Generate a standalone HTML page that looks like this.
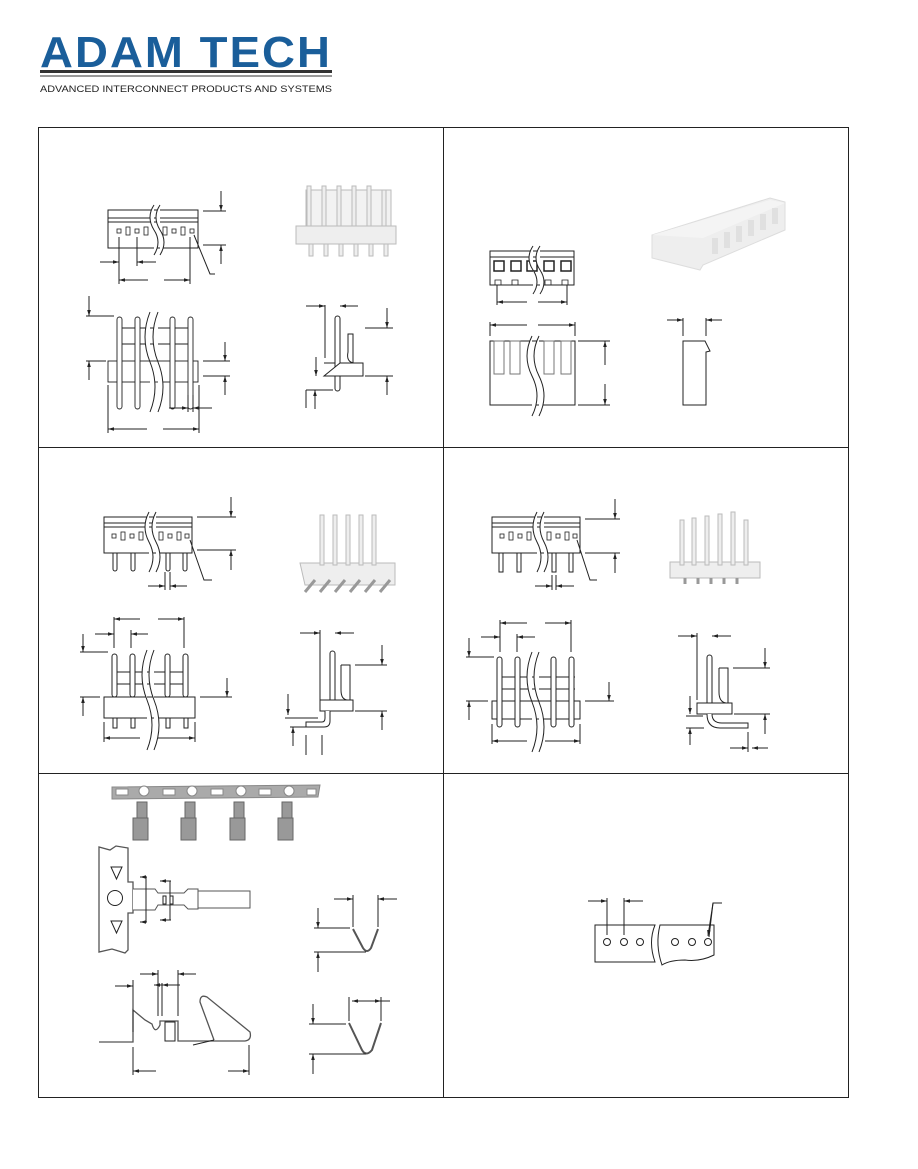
<!DOCTYPE html>
<html><head><meta charset="utf-8">
<style>
html,body{margin:0;padding:0;background:#fff;}
svg{display:block;}
text{font-family:"Liberation Sans",sans-serif;}
</style></head>
<body>
<svg width="918" height="1169" viewBox="0 0 918 1169" xmlns="http://www.w3.org/2000/svg" fill="none" stroke="#222" stroke-width="1">
<!-- Logo -->
<text x="40" y="67" font-size="44" font-weight="bold" fill="#1a5e9a" stroke="none" letter-spacing="2" textLength="292" lengthAdjust="spacingAndGlyphs">ADAM TECH</text>
<rect x="40" y="70" width="292" height="3" fill="#333" stroke="none"/>
<rect x="40" y="75" width="292" height="2" fill="#999" stroke="none"/>
<text x="40" y="92" font-size="9.5" fill="#222" stroke="none" textLength="292" lengthAdjust="spacingAndGlyphs">ADVANCED INTERCONNECT PRODUCTS AND SYSTEMS</text>

<!-- Grid -->
<rect x="38.5" y="127.5" width="810" height="970" stroke="#222"/>
<line x1="443.5" y1="127" x2="443.5" y2="1097"/>
<line x1="38" y1="447.5" x2="848" y2="447.5"/>
<line x1="38" y1="773.5" x2="848" y2="773.5"/>

<defs>
<marker id="a" viewBox="0 0 10 10" refX="10" refY="5" markerWidth="6" markerHeight="6" orient="auto-start-reverse"><path d="M0,2 L10,5 L0,8z" fill="#222" stroke="none"/></marker>
</defs>

<!-- PANEL 1 -->
<g>
<rect x="108" y="210" width="90" height="38" fill="#fff"/>
<line x1="108" y1="218" x2="198" y2="218"/>
<line x1="108" y1="222" x2="198" y2="222"/>
<g stroke-width="0.8"><rect x="117" y="229" width="4" height="4"/><rect x="126" y="227" width="4" height="8"/><rect x="135" y="229" width="4" height="4"/><rect x="144" y="227" width="4" height="8"/><rect x="163" y="227" width="4" height="8"/><rect x="172" y="229" width="4" height="4"/><rect x="181" y="227" width="4" height="8"/><rect x="190" y="229" width="4" height="4"/></g>
<path d="M154,205 q-8,12 0,25 q8,12 0,25 M160,205 q-8,12 0,25 q8,12 0,25" fill="#fff" stroke="#222"/>
<line x1="203" y1="211" x2="226" y2="211"/><line x1="221" y1="191" x2="221" y2="211" marker-end="url(#a)"/>
<line x1="203" y1="245" x2="226" y2="245"/><line x1="221" y1="264" x2="221" y2="245" marker-end="url(#a)"/>
<line x1="119" y1="237" x2="119" y2="284"/><line x1="137" y1="237" x2="137" y2="266"/><line x1="190" y1="237" x2="190" y2="284"/>
<line x1="100" y1="262" x2="119" y2="262" marker-end="url(#a)"/><line x1="156" y1="262" x2="137" y2="262" marker-end="url(#a)"/>
<line x1="148" y1="280" x2="119" y2="280" marker-end="url(#a)"/><line x1="164" y1="280" x2="190" y2="280" marker-end="url(#a)"/>
<path d="M194,235 L210,274 L215,274"/>
<!-- photo -->
<g fill="#eee" stroke="#bbb"><rect x="296" y="226" width="100" height="18"/>
<rect x="306" y="190" width="85" height="36" fill="#f2f2f2"/>
<rect x="307" y="186" width="4" height="40"/><rect x="322" y="186" width="4" height="40"/><rect x="337" y="186" width="4" height="40"/><rect x="352" y="186" width="4" height="40"/><rect x="367" y="186" width="4" height="40"/><rect x="382" y="190" width="4" height="36"/>
<rect x="309" y="244" width="4" height="12"/><rect x="324" y="244" width="4" height="12"/><rect x="339" y="244" width="4" height="12"/><rect x="354" y="244" width="4" height="12"/><rect x="369" y="244" width="4" height="12"/><rect x="384" y="244" width="4" height="12"/></g>
<!-- pin front -->
<g stroke-width="0.9">
<rect x="108" y="361" width="90" height="21" fill="#fff"/>
<line x1="118" y1="328" x2="188" y2="328"/><line x1="118" y1="344" x2="188" y2="344"/>
<rect x="117" y="317" width="5" height="92" rx="2.5" fill="#fff"/><rect x="135" y="317" width="5" height="92" rx="2.5" fill="#fff"/><rect x="170" y="317" width="5" height="92" rx="2.5" fill="#fff"/><rect x="188" y="317" width="5" height="92" rx="2.5" fill="#fff"/>
</g>
<path d="M150,312 q-10,25 0,50 q10,25 0,50 M158,312 q-10,25 0,50 q10,25 0,50" fill="#fff"/>
<line x1="86" y1="316" x2="114" y2="316"/><line x1="89" y1="296" x2="89" y2="316" marker-end="url(#a)"/>
<line x1="86" y1="361" x2="106" y2="361"/><line x1="89" y1="380" x2="89" y2="361" marker-end="url(#a)"/>
<line x1="203" y1="361" x2="230" y2="361"/><line x1="225" y1="342" x2="225" y2="361" marker-end="url(#a)"/>
<line x1="203" y1="376" x2="230" y2="376"/><line x1="225" y1="395" x2="225" y2="376" marker-end="url(#a)"/>
<line x1="108" y1="385" x2="108" y2="433"/><line x1="199" y1="385" x2="199" y2="433"/>
<line x1="147" y1="429" x2="108" y2="429" marker-end="url(#a)"/><line x1="163" y1="429" x2="199" y2="429" marker-end="url(#a)"/>
<line x1="188" y1="395" x2="188" y2="412"/><line x1="193" y1="395" x2="193" y2="412"/>
<line x1="169" y1="408" x2="188" y2="408" marker-end="url(#a)"/><line x1="212" y1="408" x2="193" y2="408" marker-end="url(#a)"/>
<!-- side -->
<rect x="335" y="316" width="5" height="75" rx="2.5" fill="#fff"/>
<path d="M324,363 L335,363 M340,363 L353,363 L353,334 L348,334 L348,352 Q346,362 354,363 L363,363 L363,376 L324,376 Z" fill="#fff"/>
<line x1="325" y1="305" x2="325" y2="358"/><line x1="306" y1="306" x2="325" y2="306" marker-end="url(#a)"/><line x1="358" y1="306" x2="340" y2="306" marker-end="url(#a)"/>
<line x1="365" y1="328" x2="393" y2="328"/><line x1="387" y1="308" x2="387" y2="328" marker-end="url(#a)"/>
<line x1="365" y1="376" x2="393" y2="376"/><line x1="387" y1="395" x2="387" y2="376" marker-end="url(#a)"/>
<line x1="316" y1="376" x2="316" y2="357" marker-start="url(#a)"/>
<line x1="306" y1="390" x2="333" y2="390"/><line x1="315" y1="409" x2="315" y2="390" marker-end="url(#a)"/><line x1="306" y1="408" x2="306" y2="390"/>
</g>

<!-- PANEL 2 -->
<g>
<rect x="490" y="251" width="84" height="34" fill="#fff"/>
<line x1="490" y1="257" x2="574" y2="257"/>
<rect x="494" y="261" width="10" height="10" stroke-width="1.5"/><rect x="511" y="261" width="10" height="10" stroke-width="1.5"/><rect x="527" y="261" width="10" height="10" stroke-width="1.5"/><rect x="544" y="261" width="10" height="10" stroke-width="1.5"/><rect x="561" y="261" width="10" height="10" stroke-width="1.5"/>
<path d="M495,285 v-5 h6 v5 M512,285 v-5 h6 v5 M545,285 v-5 h6 v5 M562,285 v-5 h6 v5" stroke-width="0.8"/>
<path d="M533,246 q-8,12 0,24 q8,12 0,24 M540,246 q-8,12 0,24 q8,12 0,24" fill="#fff"/>
<line x1="497" y1="285" x2="497" y2="305"/><line x1="567" y1="285" x2="567" y2="305"/>
<line x1="527" y1="302" x2="497" y2="302" marker-end="url(#a)"/><line x1="538" y1="302" x2="567" y2="302" marker-end="url(#a)"/>
<!-- photo -->
<path d="M652,235 L770,198 L785,202 L785,230 L703,265 L700,270 L652,258 Z" fill="#eeeeee" stroke="#ddd"/>
<path d="M652,235 L770,200 L785,203 L703,238 Z" fill="#f4f4f4" stroke="none"/>
<g fill="#e0e0e0" stroke="none"><rect x="712" y="238" width="6" height="16"/><rect x="724" y="232" width="6" height="16"/><rect x="736" y="226" width="6" height="16"/><rect x="748" y="220" width="6" height="16"/><rect x="760" y="214" width="6" height="16"/><rect x="772" y="208" width="6" height="16"/></g>
<!-- front -->
<rect x="490" y="341" width="85" height="64" fill="#fff"/>
<g stroke-width="1" stroke="#777"><rect x="494" y="341" width="10" height="33"/><rect x="510" y="341" width="10" height="33"/><rect x="544" y="341" width="10" height="33"/><rect x="561" y="341" width="10" height="33"/></g>
<path d="M532,336 q-10,20 0,40 q10,20 0,40 M539,336 q-10,20 0,40 q10,20 0,40" fill="#fff"/>
<line x1="490" y1="322" x2="490" y2="336"/><line x1="575" y1="322" x2="575" y2="336"/>
<line x1="527" y1="325" x2="490" y2="325" marker-end="url(#a)"/><line x1="538" y1="325" x2="575" y2="325" marker-end="url(#a)"/>
<line x1="578" y1="341" x2="610" y2="341"/><line x1="578" y1="405" x2="610" y2="405"/>
<line x1="605" y1="365" x2="605" y2="341" marker-end="url(#a)"/><line x1="605" y1="384" x2="605" y2="405" marker-end="url(#a)"/>
<path d="M683,341 L705,341 L710,351 L706,352 L706,405 L683,405 Z" fill="#fff"/>
<line x1="683" y1="318" x2="683" y2="336"/><line x1="706" y1="318" x2="706" y2="336"/>
<line x1="667" y1="320" x2="683" y2="320" marker-end="url(#a)"/><line x1="722" y1="320" x2="706" y2="320" marker-end="url(#a)"/>
</g>

<!-- PANEL 3 -->
<g>
<rect x="104" y="517" width="88" height="36" fill="#fff"/>
<line x1="104" y1="523" x2="192" y2="523"/><line x1="104" y1="527" x2="192" y2="527"/>
<g stroke-width="0.8"><rect x="112" y="534" width="4" height="4"/><rect x="121" y="532" width="4" height="8"/><rect x="130" y="534" width="4" height="4"/><rect x="139" y="532" width="4" height="8"/><rect x="159" y="532" width="4" height="8"/><rect x="168" y="534" width="4" height="4"/><rect x="177" y="532" width="4" height="8"/><rect x="185" y="534" width="4" height="4"/></g>
<path d="M113,553 v16 a2,2 0 0 0 4,0 v-16 M131,553 v16 a2,2 0 0 0 4,0 v-16 M166,553 v16 a2,2 0 0 0 4,0 v-16 M183,553 v16 a2,2 0 0 0 4,0 v-16"/>
<path d="M149,512 q-8,15 0,30 q8,15 0,30 M156,512 q-8,15 0,30 q8,15 0,30" fill="#fff"/>
<line x1="197" y1="517" x2="236" y2="517"/><line x1="231" y1="497" x2="231" y2="517" marker-end="url(#a)"/>
<line x1="197" y1="550" x2="236" y2="550"/><line x1="231" y1="570" x2="231" y2="550" marker-end="url(#a)"/>
<line x1="165" y1="572" x2="165" y2="590"/><line x1="170" y1="572" x2="170" y2="590"/>
<line x1="148" y1="586" x2="165" y2="586" marker-end="url(#a)"/><line x1="187" y1="586" x2="170" y2="586" marker-end="url(#a)"/>
<path d="M190,540 L204,580 L212,580"/>
<!-- photo -->
<g fill="#eee" stroke="#bbb"><path d="M300,563 L395,563 L395,585 L305,585 Z"/>
<rect x="320" y="515" width="4" height="50"/><rect x="333" y="515" width="4" height="50"/><rect x="346" y="515" width="4" height="50"/><rect x="359" y="515" width="4" height="50"/><rect x="372" y="515" width="4" height="50"/>
<path d="M315,580 l-10,12 M330,580 l-10,12 M345,580 l-10,12 M360,580 l-10,12 M375,580 l-10,12 M390,580 l-10,12" stroke="#999" stroke-width="3"/></g>
<!-- pin front -->
<rect x="104" y="697" width="91" height="21" fill="#fff"/>
<line x1="112" y1="672" x2="188" y2="672"/><line x1="112" y1="684" x2="188" y2="684"/>
<rect x="112" y="654" width="5" height="43" rx="2.5" fill="#fff"/><rect x="130" y="654" width="5" height="43" rx="2.5" fill="#fff"/><rect x="165" y="654" width="5" height="43" rx="2.5" fill="#fff"/><rect x="183" y="654" width="5" height="43" rx="2.5" fill="#fff"/>
<path d="M113,718 v10 h4 v-10 M131,718 v10 h4 v-10 M166,718 v10 h4 v-10 M184,718 v10 h4 v-10"/>
<path d="M147,650 q-10,25 0,50 q10,25 0,50 M154,650 q-10,25 0,50 q10,25 0,50" fill="#fff"/>
<line x1="114" y1="617" x2="114" y2="648"/><line x1="184" y1="617" x2="184" y2="648"/>
<line x1="140" y1="619" x2="114" y2="619" marker-end="url(#a)"/><line x1="158" y1="619" x2="184" y2="619" marker-end="url(#a)"/>
<line x1="131" y1="630" x2="131" y2="648"/><line x1="95" y1="634" x2="114" y2="634" marker-end="url(#a)"/><line x1="148" y1="634" x2="131" y2="634" marker-end="url(#a)"/>
<line x1="80" y1="652" x2="108" y2="652"/><line x1="83" y1="634" x2="83" y2="652" marker-end="url(#a)"/>
<line x1="80" y1="697" x2="100" y2="697"/><line x1="83" y1="716" x2="83" y2="697" marker-end="url(#a)"/>
<line x1="200" y1="697" x2="232" y2="697"/><line x1="227" y1="678" x2="227" y2="697" marker-end="url(#a)"/>
<line x1="104" y1="722" x2="104" y2="742"/><line x1="195" y1="722" x2="195" y2="742"/>
<line x1="140" y1="738" x2="104" y2="738" marker-end="url(#a)"/><line x1="158" y1="738" x2="195" y2="738" marker-end="url(#a)"/>
<!-- side -->
<rect x="330" y="651" width="5" height="57" rx="2.5" fill="#fff"/>
<path d="M320,700 L353,700 L353,711 L320,711 Z M341,665 L350,665 L350,700 M341,665 L341,690 Q341,700 348,700" fill="#fff"/>
<path d="M330,711 L330,721 Q330,727 324,727 L306,727 L306,722 L322,722 Q325,722 325,718 L325,711" fill="#fff"/>
<line x1="320" y1="630" x2="320" y2="700"/><line x1="300" y1="633" x2="320" y2="633" marker-end="url(#a)"/><line x1="354" y1="633" x2="335" y2="633" marker-end="url(#a)"/>
<line x1="355" y1="665" x2="387" y2="665"/><line x1="382" y1="645" x2="382" y2="665" marker-end="url(#a)"/>
<line x1="355" y1="711" x2="387" y2="711"/><line x1="382" y1="730" x2="382" y2="711" marker-end="url(#a)"/>
<line x1="288" y1="694" x2="288" y2="715" marker-end="url(#a)"/><line x1="285" y1="718" x2="318" y2="718"/>
<line x1="293" y1="746" x2="293" y2="727" marker-end="url(#a)"/><line x1="290" y1="727" x2="306" y2="727"/>
<line x1="306" y1="735" x2="306" y2="755"/><line x1="322" y1="735" x2="322" y2="755"/>
</g>

<!-- PANEL 4 -->
<g>
<rect x="492" y="517" width="88" height="36" fill="#fff"/>
<line x1="492" y1="523" x2="580" y2="523"/><line x1="492" y1="527" x2="580" y2="527"/>
<g stroke-width="0.8"><rect x="500" y="534" width="4" height="4"/><rect x="509" y="532" width="4" height="8"/><rect x="518" y="534" width="4" height="4"/><rect x="527" y="532" width="4" height="8"/><rect x="547" y="532" width="4" height="8"/><rect x="556" y="534" width="4" height="4"/><rect x="565" y="532" width="4" height="8"/><rect x="573" y="534" width="4" height="4"/></g>
<path d="M499,553 v19 h4 v-19 M517,553 v19 h4 v-19 M552,553 v19 h4 v-19 M569,553 v19 h4 v-19"/>
<path d="M537,512 q-8,15 0,30 q8,15 0,30 M544,512 q-8,15 0,30 q8,15 0,30" fill="#fff"/>
<line x1="585" y1="519" x2="620" y2="519"/><line x1="615" y1="499" x2="615" y2="519" marker-end="url(#a)"/>
<line x1="585" y1="553" x2="620" y2="553"/><line x1="615" y1="573" x2="615" y2="553" marker-end="url(#a)"/>
<line x1="552" y1="575" x2="552" y2="590"/><line x1="556" y1="575" x2="556" y2="590"/>
<line x1="535" y1="586" x2="552" y2="586" marker-end="url(#a)"/><line x1="574" y1="586" x2="556" y2="586" marker-end="url(#a)"/>
<path d="M577,540 L590,580 L597,580"/>
<!-- photo -->
<g fill="#eee" stroke="#bbb"><rect x="670" y="562" width="90" height="16"/>
<rect x="680" y="520" width="4" height="45"/><rect x="692" y="518" width="4" height="47"/><rect x="705" y="516" width="4" height="49"/><rect x="718" y="514" width="4" height="51"/><rect x="731" y="512" width="4" height="53"/><rect x="744" y="520" width="4" height="45"/>
<path d="M685,578 v6 M698,578 v6 M711,578 v6 M724,578 v6 M737,578 v6" stroke="#999" stroke-width="3"/></g>
<!-- pin front -->
<rect x="492" y="701" width="88" height="18" fill="#fff"/>
<line x1="497" y1="677" x2="575" y2="677"/><line x1="497" y1="689" x2="575" y2="689"/>
<rect x="497" y="657" width="5" height="70" rx="2.5" fill="#fff"/><rect x="515" y="657" width="5" height="70" rx="2.5" fill="#fff"/><rect x="551" y="657" width="5" height="70" rx="2.5" fill="#fff"/><rect x="569" y="657" width="5" height="70" rx="2.5" fill="#fff"/>
<path d="M532,652 q-10,25 0,50 q10,25 0,50 M539,652 q-10,25 0,50 q10,25 0,50" fill="#fff"/>
<line x1="500" y1="620" x2="500" y2="652"/><line x1="571" y1="620" x2="571" y2="652"/>
<line x1="527" y1="623" x2="500" y2="623" marker-end="url(#a)"/><line x1="545" y1="623" x2="571" y2="623" marker-end="url(#a)"/>
<line x1="517" y1="634" x2="517" y2="652"/><line x1="481" y1="637" x2="500" y2="637" marker-end="url(#a)"/><line x1="535" y1="637" x2="517" y2="637" marker-end="url(#a)"/>
<line x1="466" y1="657" x2="494" y2="657"/><line x1="469" y1="638" x2="469" y2="657" marker-end="url(#a)"/>
<line x1="466" y1="701" x2="488" y2="701"/><line x1="469" y1="720" x2="469" y2="701" marker-end="url(#a)"/>
<line x1="585" y1="701" x2="614" y2="701"/><line x1="609" y1="682" x2="609" y2="701" marker-end="url(#a)"/>
<line x1="492" y1="724" x2="492" y2="744"/><line x1="580" y1="724" x2="580" y2="744"/>
<line x1="527" y1="741" x2="492" y2="741" marker-end="url(#a)"/><line x1="545" y1="741" x2="580" y2="741" marker-end="url(#a)"/>
<!-- side -->
<rect x="707" y="655" width="5" height="55" rx="2.5" fill="#fff"/>
<path d="M697,703 L732,703 L732,714 L697,714 Z M719,668 L728,668 L728,703 M719,668 L719,692 Q719,702 726,703" fill="#fff"/>
<path d="M707,714 Q707,728 720,728 L748,728 L748,723 L722,723 Q712,723 712,714" fill="#fff"/>
<line x1="697" y1="633" x2="697" y2="700"/><line x1="678" y1="636" x2="697" y2="636" marker-end="url(#a)"/><line x1="731" y1="636" x2="712" y2="636" marker-end="url(#a)"/>
<line x1="733" y1="668" x2="770" y2="668"/><line x1="765" y1="648" x2="765" y2="668" marker-end="url(#a)"/>
<line x1="734" y1="714" x2="770" y2="714"/><line x1="765" y1="734" x2="765" y2="714" marker-end="url(#a)"/>
<line x1="690" y1="696" x2="690" y2="714" marker-end="url(#a)"/><line x1="686" y1="716" x2="703" y2="716"/>
<line x1="690" y1="745" x2="690" y2="728" marker-end="url(#a)"/><line x1="686" y1="728" x2="704" y2="728"/>
<line x1="748" y1="732" x2="748" y2="752"/><line x1="730" y1="748" x2="748" y2="748" marker-end="url(#a)"/><line x1="768" y1="748" x2="752" y2="748" marker-end="url(#a)"/>
</g>

<!-- PANEL 5 -->
<g>
<path d="M112,787 L320,785 L318,797 L112,799 Z" fill="#aaa" stroke="#888"/>
<g fill="#fff" stroke="#888"><rect x="116" y="789" width="12" height="6"/><rect x="163" y="789" width="12" height="6"/><rect x="211" y="789" width="12" height="6"/><rect x="259" y="789" width="12" height="6"/><rect x="307" y="789" width="9" height="6"/>
<circle cx="144" cy="791" r="5"/><circle cx="192" cy="791" r="5"/><circle cx="241" cy="791" r="5"/><circle cx="289" cy="791" r="5"/></g>
<g fill="#999" stroke="#666">
<rect x="137" y="802" width="10" height="16"/><rect x="133" y="818" width="15" height="22"/>
<rect x="185" y="802" width="10" height="16"/><rect x="181" y="818" width="15" height="22"/>
<rect x="234" y="802" width="10" height="16"/><rect x="230" y="818" width="15" height="22"/>
<rect x="282" y="802" width="10" height="16"/><rect x="278" y="818" width="15" height="22"/></g>
<!-- carrier top view -->
<path d="M99,847 L99,952 L112,949 L125,953 L128,950 L128,913 L133,913 L133,882 L128,882 L128,848 L116,846 L110,850 Z" fill="#fff" stroke="#555" stroke-width="1.3"/>
<path d="M111,867 L122,867 L116.5,879 Z M111,921 L122,921 L116.5,933 Z"/>
<circle cx="115" cy="898" r="7.5"/>
<path d="M133,889 L155,889 L158,893 L184,893 L188,889 L198,889 L198,909 L188,909 L184,905 L158,905 L155,910 L133,910" fill="#fff" stroke="#555"/>
<rect x="198" y="891" width="52" height="17" fill="#fff" stroke="#555"/>
<rect x="163" y="896" width="3" height="8"/><rect x="170" y="896" width="3" height="8"/>
<line x1="140" y1="877" x2="147" y2="877" marker-start="url(#a)"/><line x1="146" y1="877" x2="146" y2="922"/><line x1="140" y1="922" x2="147" y2="922" marker-start="url(#a)"/>
<line x1="160" y1="881" x2="171" y2="881" marker-start="url(#a)"/><line x1="170" y1="881" x2="170" y2="920"/><line x1="160" y1="920" x2="171" y2="920" marker-start="url(#a)"/>
<!-- terminal side -->
<path d="M99,1042 L133,1042 L133,1010 L145,1020 L152,1024 Q155,1035 160,1025 L160,1021 L178,1021 L178,1041 L245,1041 Q252,1040 250,1032 L207,997 Q200,994 200,1002 L214,1040" fill="#fff" stroke="#555" stroke-width="1.3"/>
<rect x="165" y="1022" width="10" height="19" fill="#fff"/>
<line x1="193" y1="1045" x2="214" y2="1040"/>
<line x1="133" y1="980" x2="133" y2="1032"/><line x1="158" y1="970" x2="158" y2="1016"/><line x1="162" y1="983" x2="162" y2="1016"/><line x1="178" y1="970" x2="178" y2="1016"/>
<line x1="115" y1="986" x2="133" y2="986" marker-end="url(#a)"/>
<line x1="140" y1="974" x2="158" y2="974" marker-end="url(#a)"/><line x1="196" y1="974" x2="178" y2="974" marker-end="url(#a)"/>
<line x1="154" y1="985" x2="162" y2="985" marker-start="url(#a)"/><line x1="180" y1="985" x2="162" y2="985" marker-end="url(#a)"/>
<line x1="133" y1="1047" x2="133" y2="1075"/><line x1="249" y1="1045" x2="249" y2="1075"/>
<line x1="156" y1="1071" x2="133" y2="1071" marker-end="url(#a)"/><line x1="228" y1="1071" x2="249" y2="1071" marker-end="url(#a)"/>
<!-- U shapes -->
<path d="M353,929 L363,948 Q367,954 371,948 L378,929" stroke-width="2" stroke="#555"/>
<line x1="353" y1="895" x2="353" y2="927"/><line x1="378" y1="895" x2="378" y2="927"/>
<line x1="334" y1="899" x2="353" y2="899" marker-end="url(#a)"/><line x1="397" y1="899" x2="378" y2="899" marker-end="url(#a)"/>
<line x1="314" y1="928" x2="350" y2="928"/><line x1="318" y1="908" x2="318" y2="928" marker-end="url(#a)"/>
<line x1="314" y1="952" x2="366" y2="952"/><line x1="318" y1="972" x2="318" y2="952" marker-end="url(#a)"/>
<path d="M349,1023 L362,1050 Q366,1057 372,1050 L381,1023" stroke-width="2" stroke="#555"/>
<line x1="349" y1="997" x2="349" y2="1021"/><line x1="381" y1="997" x2="381" y2="1021"/>
<line x1="352" y1="1001" x2="366" y2="1001" marker-start="url(#a)"/><line x1="366" y1="1001" x2="381" y2="1001" marker-end="url(#a)"/><line x1="381" y1="1001" x2="390" y2="1001"/>
<line x1="309" y1="1024" x2="346" y2="1024"/><line x1="313" y1="1004" x2="313" y2="1024" marker-end="url(#a)"/>
<line x1="309" y1="1054" x2="366" y2="1054"/><line x1="313" y1="1074" x2="313" y2="1054" marker-end="url(#a)"/>
</g>

<!-- PANEL 6 -->
<g>
<path d="M595,925 L655,925 Q648,942 655,962 L595,962 Z" fill="#fff"/>
<path d="M660,925 L714,925 L714,955 Q700,962 685,960 Q670,960 662,965 Q655,945 660,925 Z" fill="#fff"/>
<circle cx="607" cy="942" r="3.5"/><circle cx="624" cy="942" r="3.5"/><circle cx="640" cy="942" r="3.5"/><circle cx="675" cy="942" r="3.5"/><circle cx="692" cy="942" r="3.5"/><circle cx="708" cy="942" r="3.5"/>
<line x1="607" y1="898" x2="607" y2="935"/><line x1="624" y1="898" x2="624" y2="935"/>
<line x1="588" y1="901" x2="607" y2="901" marker-end="url(#a)"/><line x1="643" y1="901" x2="624" y2="901" marker-end="url(#a)"/>
<path d="M709,937 L713,903 L722,903" /><line x1="713" y1="903" x2="708" y2="936" marker-end="url(#a)"/>
</g>
</svg>
</body></html>
